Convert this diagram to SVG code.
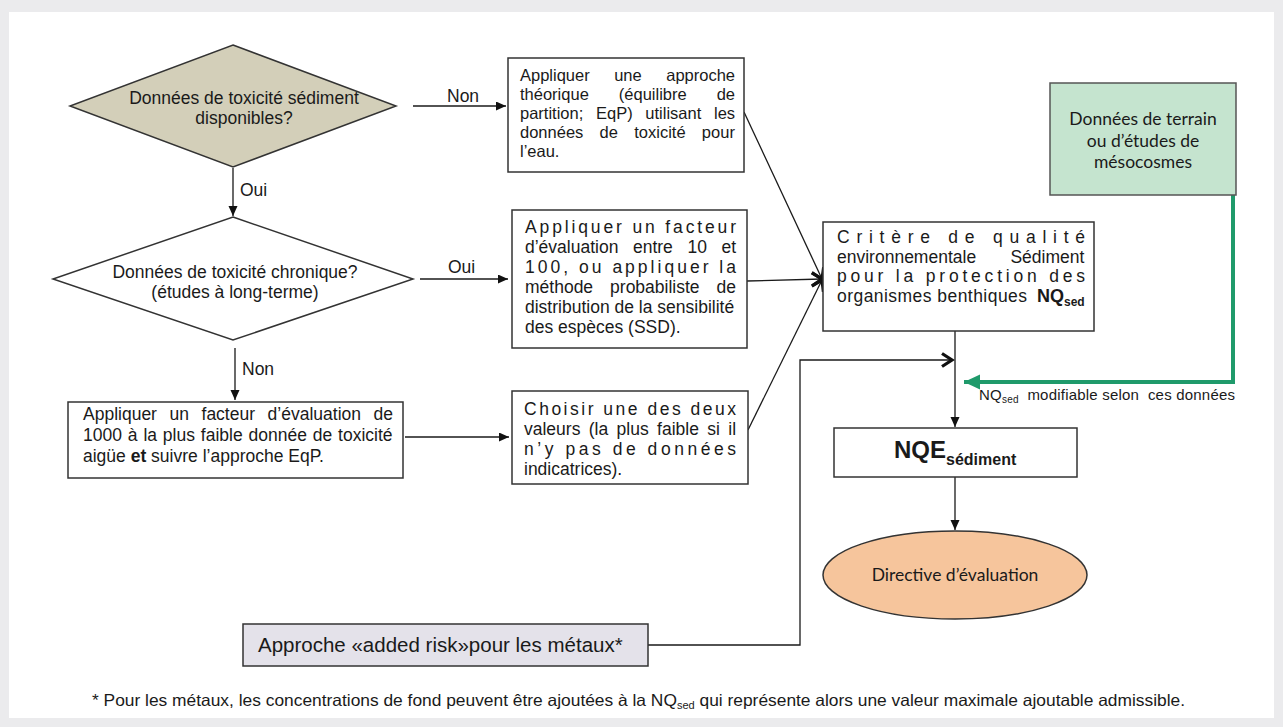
<svg xmlns="http://www.w3.org/2000/svg" width="1283" height="727" viewBox="0 0 1283 727">
<defs>
<style>
.t{font-family:"Liberation Sans",Arial,sans-serif;font-size:17.5px;fill:#1a1a1a}
.c{font-family:Lato,"Open Sans",sans-serif;font-size:17.5px;fill:#1a1a1a}
.box{fill:#fff;stroke:#333;stroke-width:1.5}
.ln{fill:none;stroke:#1a1a1a;stroke-width:1.3}
.b{font-weight:bold}
</style>
<marker id="tri" markerUnits="userSpaceOnUse" markerWidth="11" markerHeight="10" refX="10" refY="4.5" orient="auto"><path d="M0,0 L10,4.5 L0,9 z" fill="#111"/></marker>
<marker id="chev" markerUnits="userSpaceOnUse" markerWidth="16" markerHeight="16" refX="13" refY="8" orient="auto" overflow="visible"><path d="M3,1.5 L13,8 L3,14.5" fill="none" stroke="#111" stroke-width="3.2" stroke-linejoin="miter"/></marker>
<marker id="gtri" markerUnits="userSpaceOnUse" markerWidth="18" markerHeight="16" refX="16" refY="7.5" orient="auto"><path d="M0,0 L16,7.5 L0,15 z" fill="#1f9a6b"/></marker>
</defs>
<rect x="0" y="0" width="1283" height="727" fill="#ebebed"/>
<rect x="9" y="12" width="1265" height="706" fill="#fff"/>

<g id="connectors">
<line class="ln" x1="413" y1="106" x2="506" y2="106" marker-end="url(#tri)"/>
<line class="ln" x1="233" y1="168" x2="233" y2="216" marker-end="url(#tri)"/>
<line class="ln" x1="420" y1="279" x2="508" y2="279" marker-end="url(#tri)"/>
<line class="ln" x1="235" y1="348" x2="235" y2="400" marker-end="url(#tri)"/>
<line class="ln" x1="405" y1="437" x2="509" y2="437" marker-end="url(#tri)"/>
<line class="ln" x1="744" y1="112" x2="822" y2="279" marker-end="url(#chev)"/>
<line class="ln" x1="747" y1="281" x2="822" y2="279" marker-end="url(#chev)"/>
<line class="ln" x1="748" y1="430" x2="822" y2="280" marker-end="url(#chev)"/>
<polyline class="ln" points="648,645 800,645 800,360 952,360" marker-end="url(#chev)"/>
<line class="ln" x1="955" y1="331" x2="955" y2="427" marker-end="url(#tri)"/>
<line class="ln" x1="955" y1="477" x2="955" y2="530" marker-end="url(#tri)"/>
<polyline points="1233,195 1233,382 964,382" fill="none" stroke="#1f9a6b" stroke-width="4" marker-end="url(#gtri)"/>
<text class="t" x="447" y="102">Non</text>
<text class="t" x="240" y="196">Oui</text>
<text class="t" x="448" y="273">Oui</text>
<text class="t" x="242" y="375">Non</text>
<text class="t" style="font-size:15px" x="979" y="400" textLength="256" lengthAdjust="spacing" xml:space="preserve">NQ<tspan style="font-size:10px" dy="3">sed</tspan><tspan dy="-3">  modifiable selon  ces données</tspan></text>
</g>

<g id="q1">
<polygon points="233,45 396,106 233,167 70,106" fill="#d3cfb9" stroke="#333" stroke-width="1.5"/>
<text class="t" x="244" y="104" text-anchor="middle">Données de toxicité sédiment</text>
<text class="t" x="244" y="124" text-anchor="middle">disponibles?</text>
</g>

<g id="q2">
<polygon points="233,217 413,279 233,340 53,279" fill="#fff" stroke="#333" stroke-width="1.5"/>
<text class="t" x="235" y="278" text-anchor="middle">Données de toxicité chronique?</text>
<text class="t" x="235" y="298" text-anchor="middle">(études à long-terme)</text>
</g>

<g id="box1">
<rect class="box" x="508" y="58" width="236" height="114"/>
<g class="t" style="font-size:16.5px">
<text x="520" y="81" style="word-spacing:19.9px">Appliquer une approche</text>
<text x="520" y="100" style="word-spacing:25.4px">théorique (équilibre de</text>
<text x="520" y="119" style="word-spacing:8.1px">partition; EqP) utilisant les</text>
<text x="520" y="138" style="word-spacing:11.7px">données de toxicité pour</text>
<text x="520" y="157">l’eau.</text>
</g>
</g>

<g id="box2">
<rect class="box" x="512" y="210" width="235" height="138"/>
<g class="t">
<text x="525" y="233" textLength="211" lengthAdjust="spacing">Appliquer un facteur</text>
<text x="525" y="253" style="word-spacing:9.7px">d’évaluation entre 10 et</text>
<text x="525" y="273" textLength="211" lengthAdjust="spacing">100, ou appliquer la</text>
<text x="525" y="293" style="word-spacing:12.1px">méthode probabiliste de</text>
<text x="525" y="313">distribution de la sensibilité</text>
<text x="525" y="333">des espèces (SSD).</text>
</g>
</g>

<g id="box3">
<rect class="box" x="512" y="391" width="236" height="93"/>
<g class="t">
<text x="524" y="415" textLength="212" lengthAdjust="spacing">Choisir une des deux</text>
<text x="524" y="435" style="word-spacing:3.5px">valeurs (la plus faible si il</text>
<text x="524" y="455" textLength="212" lengthAdjust="spacing">n’y pas de données</text>
<text x="524" y="475">indicatrices).</text>
</g>
</g>

<g id="box4">
<rect class="box" x="68" y="402" width="335" height="76"/>
<g class="t">
<text x="83" y="420" style="word-spacing:7.7px">Appliquer un facteur d’évaluation de</text>
<text x="83" y="441" style="word-spacing:1px">1000 à la plus faible donnée de toxicité</text>
<text x="83" y="462">aigüe <tspan class="b">et</tspan> suivre l’approche EqP.</text>
</g>
</g>

<g id="criteria">
<rect class="box" x="823" y="222" width="271" height="109"/>
<g class="t">
<text x="837" y="243" textLength="248" lengthAdjust="spacing">Critère de qualité</text>
<text x="837" y="262.5" style="word-spacing:29.4px">environnementale Sédiment</text>
<text x="837" y="282" textLength="248" lengthAdjust="spacing">pour la protection des</text>
<text x="837" y="301.5" textLength="190" lengthAdjust="spacing">organismes benthiques</text>
<text x="1037" y="301.5" class="b" style="font-size:18px">NQ<tspan style="font-size:12px" dy="4">sed</tspan></text>
</g>
</g>

<g id="field">
<rect x="1050" y="83" width="186" height="112" fill="#c5e4cf" stroke="#555" stroke-width="1.5"/>
<text class="c" x="1143" y="125" text-anchor="middle">Données de terrain</text>
<text class="c" x="1143" y="147" text-anchor="middle">ou d’études de</text>
<text class="c" x="1143" y="168" text-anchor="middle">mésocosmes</text>
</g>

<g id="nqe">
<rect class="box" x="834" y="428" width="243" height="49"/>
<text class="t b" style="font-size:24px" x="894" y="458">NQE<tspan style="font-size:16px" dy="7">sédiment</tspan></text>
</g>

<g id="directive">
<ellipse cx="955" cy="575" rx="132" ry="44" fill="#f6c59c" stroke="#333" stroke-width="1.5"/>
<text class="c" x="955" y="581" text-anchor="middle">Directive d’évaluation</text>
</g>

<g id="addedrisk">
<rect x="243" y="624" width="405" height="42" fill="#e4e2ea" stroke="#333" stroke-width="1.5"/>
<text class="t" style="font-size:20.5px" x="258" y="652">Approche «added risk»pour les métaux*</text>
</g>

<text class="t" style="font-size:16.5px" x="92" y="706" textLength="1093" lengthAdjust="spacingAndGlyphs">* Pour les métaux, les concentrations de fond peuvent être ajoutées à la NQ<tspan style="font-size:10.5px" dy="3">sed</tspan><tspan dy="-3"> qui représente alors une valeur maximale ajoutable admissible.</tspan></text>
</svg>
